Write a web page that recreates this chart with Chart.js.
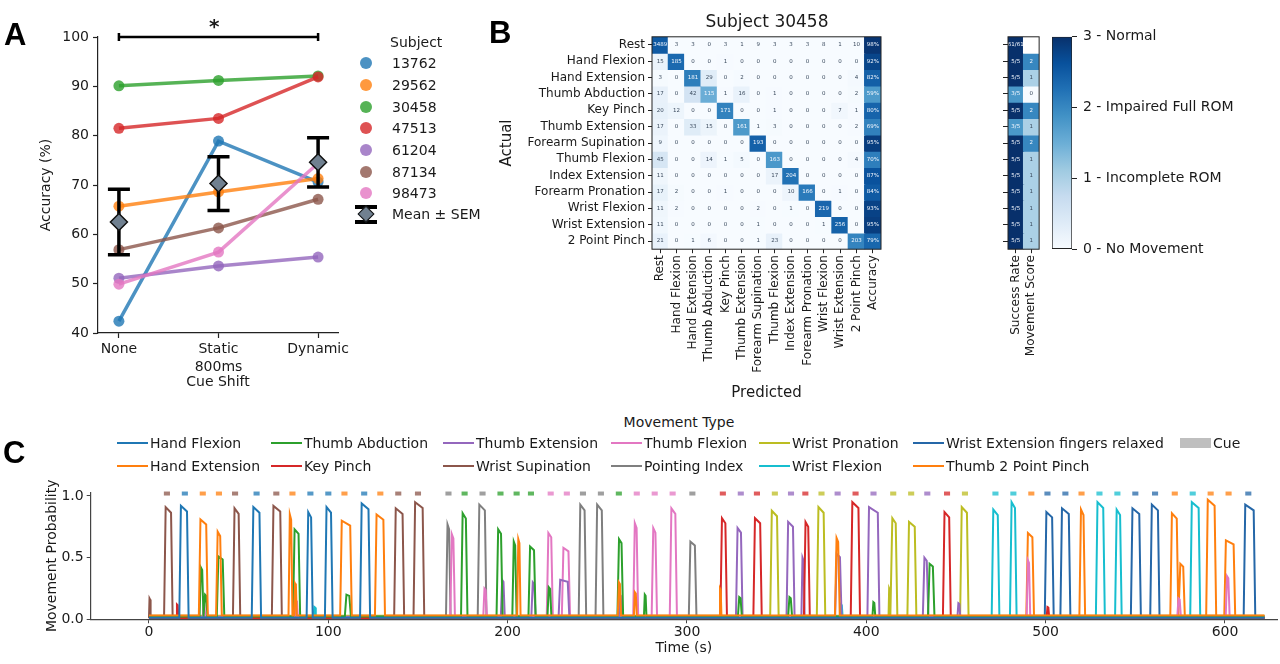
<!DOCTYPE html>
<html><head><meta charset="utf-8">
<script src="https://cdn.jsdelivr.net/npm/chart.js@4.4.1/dist/chart.umd.min.js"></script>
<style>
html,body{margin:0;padding:0;background:#fff;}
#fig{position:relative;width:1280px;height:664px;overflow:hidden;background:#fff;font-family:"DejaVu Sans",sans-serif;color:#1a1a1a;}
canvas{position:absolute;}
.t{position:absolute;white-space:nowrap;font-size:14px;line-height:18px;}
.letter{position:absolute;font-family:"Liberation Sans",Arial,sans-serif;font-weight:bold;font-size:31px;line-height:31px;color:#000;}
</style></head><body><div id="fig">
<canvas id="cA" width="360" height="400" style="left:0;top:0;width:360px;height:400px"></canvas>
<canvas id="cB" width="400" height="410" style="left:490px;top:0;width:400px;height:410px"></canvas>
<canvas id="cS" width="60" height="410" style="left:990px;top:0;width:60px;height:410px"></canvas>
<canvas id="cK" width="240" height="410" style="left:1040px;top:0;width:240px;height:410px"></canvas>
<canvas id="cC" width="1280" height="194" style="left:0;top:470px;width:1280px;height:194px"></canvas>
<div class="letter" style="left:4px;top:19px">A</div>
<div class="letter" style="left:489px;top:17px">B</div>
<div class="letter" style="left:3px;top:437px">C</div>
<div class="t" style="left:209px;top:16px;font-size:20px;line-height:20px;font-weight:bold">*</div>
<div class="t" style="left:0;top:10px;width:1534px;text-align:center;font-size:17px;line-height:22px">Subject 30458</div>
<div id="legA"></div>
<div id="legC"></div>
</div>
<script>
// ================= DATA =================
// Panel A
const cueShiftLabels = ['None', ['Static', '800ms'], 'Dynamic'];
const subjects = ['13762', '29562', '30458', '47513', '61204', '87134', '98473'];
const acc13762 = [42.4, 78.9, 70.6];
const acc29562 = [65.7, 68.6, 71.3];
const acc30458 = [90.1, 91.2, 92.1];
const acc47513 = [81.5, 83.5, 91.9];
const acc61204 = [51.1, 53.6, 55.4];
const acc87134 = [56.9, 61.3, 67.1];
const acc98473 = [49.9, 56.4, 74.4];
const meanAcc = [62.5, 70.3, 74.6];
const semAcc = [6.65, 5.45, 5.0];
const accTicks = [40, 50, 60, 70, 80, 90, 100];
const sigLevel = 100;

// Panel B
const rowLabels = ['Rest', 'Hand Flexion', 'Hand Extension', 'Thumb Abduction', 'Key Pinch', 'Thumb Extension',
  'Forearm Supination', 'Thumb Flexion', 'Index Extension', 'Forearm Pronation', 'Wrist Flexion', 'Wrist Extension', '2 Point Pinch'];
const colLabels = rowLabels.concat(['Accuracy']);
const confusion = [
  [3489, 3, 3, 0, 3, 1, 9, 3, 3, 3, 8, 1, 10],
  [15, 185, 0, 0, 1, 0, 0, 0, 0, 0, 0, 0, 0],
  [3, 0, 181, 29, 0, 2, 0, 0, 0, 0, 0, 0, 4],
  [17, 0, 42, 115, 1, 16, 0, 1, 0, 0, 0, 0, 2],
  [20, 12, 0, 0, 171, 0, 0, 1, 0, 0, 0, 7, 1],
  [17, 0, 33, 15, 0, 161, 1, 3, 0, 0, 0, 0, 2],
  [9, 0, 0, 0, 0, 0, 193, 0, 0, 0, 0, 0, 0],
  [45, 0, 0, 14, 1, 5, 0, 163, 0, 0, 0, 0, 4],
  [11, 0, 0, 0, 0, 0, 0, 17, 204, 0, 0, 0, 0],
  [17, 2, 0, 0, 1, 0, 0, 0, 10, 166, 0, 1, 0],
  [11, 2, 0, 0, 0, 0, 2, 0, 1, 0, 219, 0, 0],
  [11, 0, 0, 0, 0, 0, 1, 0, 0, 0, 1, 256, 0],
  [21, 0, 1, 6, 0, 0, 1, 23, 0, 0, 0, 0, 203]
];
const accuracy = [98, 92, 82, 59, 80, 69, 95, 70, 87, 84, 93, 95, 79];
const sideLabels = ['Success Rate', 'Movement Score'];
const successText = ['61/61', '5/5', '5/5', '3/5', '5/5', '3/5', '5/5', '5/5', '5/5', '5/5', '5/5', '5/5', '5/5'];
const successRate = [1, 1, 1, 0.6, 1, 0.6, 1, 1, 1, 1, 1, 1, 1];
const movementScore = [null, 2, 1, 0, 2, 1, 2, 1, 1, 1, 1, 1, 1];
const scoreTicks = [0, 1, 2, 3];
const scoreLabels = ['0 - No Movement', '1 - Incomplete ROM', '2 - Impaired Full ROM', '3 - Normal'];

// Panel C
const movementNames = ['Hand Flexion', 'Hand Extension', 'Thumb Abduction', 'Key Pinch', 'Thumb Extension', 'Wrist Supination',
  'Thumb Flexion', 'Pointing Index', 'Wrist Pronation', 'Wrist Flexion', 'Wrist Extension fingers relaxed', 'Thumb 2 Point Pinch'];
// peaks: [start s, end s, peak probability]
const peaksHandFlexion = [[16.9,22.1,0.92],[57.3,62.5,0.91],[87.9,91.3,0.87],[98.1,102.4,0.91],[117.7,123.3,0.94]];
const peaksHandExtension = [[27.8,32.8,0.81],[37.4,40.6,0.71],[77.8,80.0,0.85],[81.0,82.4,0.29],[106.6,113.1,0.80],[126.0,131.6,0.85],[205.3,207.2,0.65],[261.4,263.2,0.30],[270.4,272.0,0.22],[318.0,319.2,0.25],[382.5,385.2,0.66]];
const peaksThumbAbduction = [[28.2,30.4,0.42],[30.6,32.6,0.20],[37.8,42.0,0.51],[80.3,84.3,0.73],[109.2,112.6,0.20],[174.0,177.6,0.86],[193.8,197.2,0.73],[202.6,205.0,0.63],[211.6,215.6,0.59],[222.2,224.4,0.26],[261.2,264.4,0.65],[276.0,277.4,0.20],[328.4,330.6,0.18],[356.4,358.6,0.18],[403.4,405.0,0.14],[434.4,438.0,0.45]];
const peaksKeyPinch = [[15.2,16.4,0.12],[318.6,322.3,0.82],[337.0,341.7,0.82],[365.2,368.5,0.79],[391.3,396.5,0.95],[442.7,447.1,0.87],[500.5,502.0,0.10]];
const peaksThumbExtension = [[196.2,198.4,0.32],[213.2,215.6,0.30],[228.4,234.4,0.32],[262.0,263.6,0.20],[327.3,331.0,0.74],[355.5,360.0,0.79],[363.8,365.6,0.50],[382.6,386.2,0.53],[400.6,407.3,0.91],[431.5,434.6,0.50],[450.8,452.4,0.13]];
const peaksWristSupination = [[0.0,0.9,0.17],[8.4,13.2,0.91],[46.8,50.9,0.90],[68.5,74.1,0.92],[136.7,142.3,0.90],[147.5,153.5,0.95]];
const peaksThumbFlexion = [[30.0,31.4,0.12],[81.6,83.0,0.15],[168.0,170.6,0.69],[186.4,188.4,0.25],[221.8,225.2,0.70],[230.2,234.8,0.58],[270.0,272.8,0.78],[280.3,283.3,0.74],[290.4,294.4,0.90],[489.4,491.4,0.48],[573.4,575.4,0.17],[600.4,602.6,0.35]];
const peaksPointingIndex = [[165.6,168.2,0.77],[183.3,188.2,0.93],[239.6,243.8,0.93],[249.0,253.4,0.93],[301.0,305.3,0.63]];
const peaksWristPronation = [[346.4,351.1,0.88],[372.4,377.1,0.91],[412.4,413.4,0.25],[413.6,417.3,0.82],[422.9,427.9,0.79],[452.3,457.0,0.91]];
const peaksWristFlexion = [[91.8,93.0,0.10],[385.4,386.8,0.12],[469.9,474.2,0.89],[480.1,483.8,0.95],[528.0,533.0,0.95],[538.7,542.4,0.89],[580.6,586.2,0.95]];
const peaksWristExtension = [[499.5,504.5,0.87],[508.2,513.8,0.90],[547.5,553.1,0.90],[558.3,563.5,0.93],[610.4,616.9,0.93]];
const peaksThumb2Point = [[489.2,493.5,0.70],[518.8,522.0,0.89],[569.5,574.0,0.86],[574.2,577.6,0.45],[589.5,595.1,0.97],[599.6,605.7,0.64]];
const baselineLevels = [0.012, 0.03, 0.022, 0.01, 0.018, 0.008, 0.02, 0.012, 0.028, 0.016, 0.01, 0.025];
const recordStart = 0, recordEnd = 622;
const cueTimes = [10,20,30,39,48,60,71,80,90,100,109,120,129,139,150,
  167,176,186,196,205,213,224,233,242,252,262,272,282,292,303,
  320,330,339,349,358,366,375,384,394,404,415,425,434,445,455,
  472,482,492,501,511,520,530,540,550,561,572,582,592,602,613];
const cueMovement = [5,0,1,1,5,0,5,1,0,0,1,0,1,5,5,
  7,2,7,2,2,2,6,6,7,7,2,6,6,6,7,
  3,4,3,8,4,3,8,4,3,4,8,8,4,3,8,
  9,9,11,10,10,11,9,9,10,10,11,9,11,11,10];
const cueLevel = 1.02;
const cueHalfWidth = 1.7;
const probTicks = [0, 0.5, 1.0];
const timeTicks = [0, 100, 200, 300, 400, 500, 600];

// ================= STYLE / HELPERS =================
Chart.defaults.font.family = '"DejaVu Sans", sans-serif';
Chart.defaults.color = '#1a1a1a';
const INK = '#1a1a1a';
const subjRGB = ['31,119,180','255,127,14','44,160,44','214,39,40','148,103,189','140,86,75','227,119,194'];
const moveColors = ['#1f77b4','#ff7f0e','#2ca02c','#d62728','#9467bd','#8c564b','#e377c2','#7f7f7f','#bcbd22','#17becf','#2567a8','#ff7f0e'];
const bluesStops = [[247,251,255],[222,235,247],[198,219,239],[158,202,225],[107,174,214],[66,146,198],[33,113,181],[8,81,156],[8,48,107]];
function blues(t) {
  t = Math.max(0, Math.min(1, t));
  const p = t * 8, i = Math.min(7, Math.floor(p)), f = p - i;
  const a = bluesStops[i], b = bluesStops[i + 1];
  return 'rgb(' + a.map((v, k) => Math.round(v + (b[k] - v) * f)).join(',') + ')';
}
const fixTicks = vals => s => { s.ticks = vals.map(v => ({ value: v })); };
const framePlugin = { id: 'frame', afterDraw(ch) { const a = ch.chartArea, c = ch.ctx; c.save(); c.strokeStyle = '#222'; c.lineWidth = 1; c.strokeRect(a.left, a.top, a.right - a.left, a.bottom - a.top); c.restore(); } };

// ================= PANEL A =================
const subjData = [acc13762, acc29562, acc30458, acc47513, acc61204, acc87134, acc98473];
const dsA = subjData.map((arr, i) => ({
  label: subjects[i],
  data: arr.map((v, k) => ({ x: k, y: v })),
  borderColor: 'rgba(' + subjRGB[i] + ',0.8)',
  backgroundColor: 'rgba(' + subjRGB[i] + ',0.8)',
  borderWidth: 3.5, pointRadius: 5.5, pointBorderWidth: 0, order: 10 - i
}));
dsA.push({
  label: 'Mean ± SEM', isMean: true,
  data: meanAcc.map((v, k) => ({ x: k, y: v })),
  showLine: false, pointStyle: 'rectRot', pointRadius: 8.5,
  backgroundColor: '#708090', borderColor: '#111', pointBorderWidth: 1.5, order: 0
});
const errPlugin = {
  id: 'err',
  beforeDatasetDraw(ch, args) {
    if (!ch.data.datasets[args.index].isMean) return;
    const c = ch.ctx, x = ch.scales.x, y = ch.scales.y;
    c.save(); c.strokeStyle = '#000'; c.lineWidth = 3.5; c.lineCap = 'butt';
    meanAcc.forEach((m, k) => {
      const px = x.getPixelForValue(k), y1 = y.getPixelForValue(m - semAcc[k]), y2 = y.getPixelForValue(m + semAcc[k]);
      c.beginPath(); c.moveTo(px, y1); c.lineTo(px, y2);
      c.moveTo(px - 11, y1); c.lineTo(px + 11, y1);
      c.moveTo(px - 11, y2); c.lineTo(px + 11, y2); c.stroke();
    });
    c.restore();
  },
  afterDraw(ch) {
    const c = ch.ctx, x = ch.scales.x, y = ch.scales.y;
    const x0 = x.getPixelForValue(0), x1 = x.getPixelForValue(2), py = y.getPixelForValue(sigLevel);
    c.save(); c.strokeStyle = '#000'; c.lineWidth = 2.5;
    c.beginPath(); c.moveTo(x0, py); c.lineTo(x1, py);
    c.moveTo(x0, py - 4); c.lineTo(x0, py + 4); c.moveTo(x1, py - 4); c.lineTo(x1, py + 4); c.stroke();
    c.restore();
  }
};
new Chart(document.getElementById('cA'), {
  type: 'line',
  data: { datasets: dsA },
  plugins: [errPlugin],
  options: {
    responsive: false, animation: false, events: [],
    layout: { padding: { left: 0, right: 22, top: 37, bottom: 0 } },
    plugins: { legend: { display: false }, tooltip: { enabled: false } },
    scales: {
      x: {
        type: 'linear', min: -0.21, max: 2.2, afterBuildTicks: fixTicks([0, 1, 2]),
        ticks: { callback: v => cueShiftLabels[v], font: { size: 14, lineHeight: 1.3 }, color: INK, padding: 2, maxRotation: 0, autoSkip: false },
        grid: { drawOnChartArea: false, tickLength: 5, color: '#222', tickWidth: 1.2 },
        border: { color: '#222', width: 1.2 },
        title: { display: true, text: 'Cue Shift', font: { size: 14 }, color: INK, padding: { top: 0, bottom: 9 } },
        afterFit: s => { s.height = 67; }
      },
      y: {
        min: 40, max: 100, afterBuildTicks: fixTicks(accTicks),
        ticks: { font: { size: 14 }, color: INK, padding: 4 },
        grid: { drawOnChartArea: false, tickLength: 5, color: '#222', tickWidth: 1.2 },
        border: { color: '#222', width: 1.2 },
        title: { display: true, text: 'Accuracy (%)', font: { size: 14 }, color: INK, padding: { top: 38, bottom: 0 } },
        afterFit: s => { s.width = 98; }
      }
    }
  }
});
// legend A (HTML)
(function () {
  const L = document.getElementById('legA');
  let h = '<div class="t" style="left:390px;top:33px">Subject</div>';
  const ys = [63, 85, 107, 128, 150, 172, 193];
  subjects.forEach((s, i) => {
    h += '<div style="position:absolute;left:360px;top:' + (ys[i] - 6) + 'px;width:12px;height:12px;border-radius:6px;background:rgba(' + subjRGB[i] + ',0.8)"></div>';
    h += '<div class="t" style="left:392px;top:' + (ys[i] - 9) + 'px">' + s + '</div>';
  });
  const my = 214;
  h += '<div style="position:absolute;left:364px;top:' + (my - 8) + 'px;width:3.5px;height:16px;background:#000"></div>';
  h += '<div style="position:absolute;left:355px;top:' + (my - 9) + 'px;width:22px;height:3.5px;background:#000"></div>';
  h += '<div style="position:absolute;left:355px;top:' + (my + 6) + 'px;width:22px;height:3.5px;background:#000"></div>';
  h += '<div style="position:absolute;left:360px;top:' + (my - 6) + 'px;width:10px;height:10px;background:#708090;border:1.5px solid #111;transform:rotate(45deg)"></div>';
  h += '<div class="t" style="left:392px;top:' + (my - 9) + 'px">Mean ± SEM</div>';
  L.innerHTML = h;
})();

// ================= PANEL B (confusion matrix) =================
const rowSums = confusion.map(r => r.reduce((a, b) => a + b, 0));
const dsB = confusion.map((row, r) => ({
  label: rowLabels[r],
  data: colLabels.map(() => [r - 0.5, r + 0.5]),
  backgroundColor: colLabels.map((c, k) => k < 13 ? blues(0.85 * row[k] / rowSums[r]) : blues(accuracy[r] / 100)),
  borderWidth: 0, barPercentage: 1, categoryPercentage: 1, grouped: false, inflateAmount: 0.6
}));
const cellTextPlugin = {
  id: 'cellText',
  afterDatasetsDraw(ch) {
    const c = ch.ctx, x = ch.scales.x, y = ch.scales.y;
    c.save(); c.font = '5.5px "DejaVu Sans"'; c.textAlign = 'center'; c.textBaseline = 'middle';
    confusion.forEach((row, r) => {
      colLabels.forEach((lab, k) => {
        let txt, light;
        if (k < 13) { txt = String(row[k]); light = row[k] / rowSums[r] > 0.5; }
        else { txt = accuracy[r] + '%'; light = true; }
        c.fillStyle = light ? '#f4f8ff' : '#3b4b5e';
        c.fillText(txt, x.getPixelForValue(k), y.getPixelForValue(r));
      });
    });
    c.restore();
  }
};
new Chart(document.getElementById('cB'), {
  type: 'bar',
  data: { labels: colLabels, datasets: dsB },
  plugins: [cellTextPlugin, framePlugin],
  options: {
    responsive: false, animation: false, events: [],
    layout: { padding: { left: 0, right: 9, top: 36.8, bottom: 0 } },
    plugins: { legend: { display: false }, tooltip: { enabled: false } },
    scales: {
      x: {
        type: 'category',
        ticks: { font: { size: 12 }, color: INK, maxRotation: 90, minRotation: 90, autoSkip: false, padding: 2 },
        grid: { drawOnChartArea: false, tickLength: 4, color: '#222', offset: false },
        border: { display: false },
        title: { display: true, text: 'Predicted', font: { size: 15 }, color: INK, padding: { top: 0, bottom: 8 } },
        afterFit: s => { s.height = 160.8; }
      },
      y: {
        min: -0.5, max: 12.5, reverse: true, afterBuildTicks: fixTicks(rowLabels.map((_, i) => i)),
        ticks: { callback: v => rowLabels[v], font: { size: 12 }, color: INK, padding: 3, autoSkip: false },
        grid: { drawOnChartArea: false, tickLength: 4, color: '#222' },
        border: { display: false },
        title: { display: true, text: 'Actual', font: { size: 15 }, color: INK, padding: { top: 8, bottom: 0 } },
        afterFit: s => { s.width = 162; }
      }
    }
  }
});

// ================= PANEL B side (success rate / movement score) =================
const dsS = rowLabels.map((_, r) => ({
  data: [[r - 0.5, r + 0.5], [r - 0.5, r + 0.5]],
  backgroundColor: [blues(successRate[r]), movementScore[r] === null ? '#ffffff' : blues(movementScore[r] / 3)],
  borderWidth: 0, barPercentage: 1, categoryPercentage: 1, grouped: false, inflateAmount: 0.6
}));
const sideTextPlugin = {
  id: 'sideText',
  afterDatasetsDraw(ch) {
    const c = ch.ctx, x = ch.scales.x, y = ch.scales.y;
    c.save(); c.font = '5.5px "DejaVu Sans"'; c.textAlign = 'center'; c.textBaseline = 'middle';
    rowLabels.forEach((_, r) => {
      c.fillStyle = successRate[r] >= 0.5 ? '#f4f8ff' : '#3b4b5e';
      c.fillText(successText[r], x.getPixelForValue(0), y.getPixelForValue(r));
      if (movementScore[r] !== null) {
        c.fillStyle = movementScore[r] >= 2 ? '#f4f8ff' : '#3b4b5e';
        c.fillText(String(movementScore[r]), x.getPixelForValue(1), y.getPixelForValue(r));
      }
    });
    c.restore();
  }
};
new Chart(document.getElementById('cS'), {
  type: 'bar',
  data: { labels: sideLabels, datasets: dsS },
  plugins: [sideTextPlugin, framePlugin],
  options: {
    responsive: false, animation: false, events: [],
    layout: { padding: { left: 0, right: 9, top: 36.8, bottom: 0 } },
    plugins: { legend: { display: false }, tooltip: { enabled: false } },
    scales: {
      x: {
        type: 'category',
        ticks: { font: { size: 12 }, color: INK, maxRotation: 90, minRotation: 90, autoSkip: false, padding: 2 },
        grid: { drawOnChartArea: false, tickLength: 4, color: '#222', offset: false },
        border: { display: false },
        afterFit: s => { s.height = 160.8; }
      },
      y: {
        min: -0.5, max: 12.5, reverse: true, afterBuildTicks: fixTicks(rowLabels.map((_, i) => i)),
        ticks: { callback: () => '', padding: 0 },
        grid: { drawOnChartArea: false, tickLength: 5, color: '#222' },
        border: { display: false },
        afterFit: s => { s.width = 18; }
      }
    }
  }
});

// ================= Colorbar =================
new Chart(document.getElementById('cK'), {
  type: 'bar',
  data: {
    labels: ['score'],
    datasets: [{
      data: [[scoreTicks[0], scoreTicks[scoreTicks.length - 1]]],
      backgroundColor: (ctx) => {
        const ca = ctx.chart.chartArea; if (!ca) return '#fff';
        const g = ctx.chart.ctx.createLinearGradient(0, ca.bottom, 0, ca.top);
        for (let i = 0; i <= 16; i++) g.addColorStop(i / 16, blues(i / 16));
        return g;
      },
      borderWidth: 1, borderColor: '#222', borderSkipped: false, barPercentage: 1, categoryPercentage: 1
    }]
  },
  options: {
    responsive: false, animation: false, events: [],
    layout: { padding: { left: 12, right: 0, top: 36.8, bottom: 160.8 } },
    plugins: { legend: { display: false }, tooltip: { enabled: false } },
    scales: {
      x: { display: false },
      y: {
        position: 'right', min: 0, max: 3, afterBuildTicks: fixTicks(scoreTicks),
        ticks: { callback: v => scoreLabels[v], font: { size: 14 }, color: INK, padding: 6 },
        grid: { drawOnChartArea: false, tickLength: 5, color: '#222' },
        border: { display: false },
        afterFit: s => { s.width = 208; }
      }
    }
  }
});

// ================= PANEL C =================
const peaksByMove = [peaksHandFlexion, peaksHandExtension, peaksThumbAbduction, peaksKeyPinch, peaksThumbExtension,
  peaksWristSupination, peaksThumbFlexion, peaksPointingIndex, peaksWristPronation, peaksWristFlexion, peaksWristExtension, peaksThumb2Point];
function buildTrace(peaks, base) {
  const pts = [{ x: recordStart, y: base }];
  peaks.forEach(([s, e, h]) => {
    const r = Math.min(0.9, (e - s) / 3);
    pts.push({ x: s, y: base }, { x: s + r, y: h }, { x: e - r, y: h * 0.95 }, { x: e, y: base });
  });
  pts.push({ x: recordEnd, y: base });
  return pts;
}
const dsC = movementNames.map((n, i) => ({
  label: n, data: buildTrace(peaksByMove[i], baselineLevels[i]),
  borderColor: moveColors[i], borderWidth: 2, pointRadius: 0, fill: false, tension: 0
}));
const cueData = [];
cueTimes.forEach(t => { cueData.push({ x: t - cueHalfWidth, y: cueLevel }, { x: t + cueHalfWidth, y: cueLevel }, { x: t + cueHalfWidth, y: null }); });
dsC.push({
  label: 'Cue', data: cueData, borderWidth: 4, pointRadius: 0, spanGaps: false, clip: false, borderCapStyle: 'butt',
  borderColor: '#bbbbbb',
  segment: { borderColor: ctx => moveColors[cueMovement[Math.floor(ctx.p0DataIndex / 3)]] + 'c0' }
});
new Chart(document.getElementById('cC'), {
  type: 'line',
  data: { datasets: dsC },
  options: {
    responsive: false, animation: false, events: [],
    layout: { padding: { left: 0, right: 3, top: 22.3, bottom: 0 } },
    plugins: { legend: { display: false }, tooltip: { enabled: false } },
    scales: {
      x: {
        type: 'linear', min: -32.5, max: 629, afterBuildTicks: fixTicks(timeTicks),
        ticks: { font: { size: 14 }, color: INK, padding: 1, maxRotation: 0 },
        grid: { drawOnChartArea: false, tickLength: 4, color: '#444' },
        border: { color: '#444', width: 1.2 },
        title: { display: true, text: 'Time (s)', font: { size: 14 }, color: INK, padding: { top: 0, bottom: 7 } },
        afterFit: s => { s.height = 44.7; }
      },
      y: {
        min: 0, max: 1.03, afterBuildTicks: fixTicks(probTicks),
        ticks: { callback: v => v.toFixed(1), font: { size: 14 }, color: INK, padding: 3 },
        grid: { drawOnChartArea: false, tickLength: 4, color: '#444' },
        border: { color: '#444', width: 1.2 },
        title: { display: true, text: 'Movement Probability', font: { size: 14 }, color: INK, padding: { top: 44, bottom: 0 } },
        afterFit: s => { s.width = 90.7; }
      }
    }
  }
});
// legend C (HTML)
(function () {
  const L = document.getElementById('legC');
  let h = '<div class="t" style="left:579px;top:413px;width:200px;text-align:center">Movement Type</div>';
  const colX = [117, 271, 443, 611, 759, 913];
  const rowY = [443, 466];
  movementNames.forEach((n, i) => {
    const cx = colX[Math.floor(i / 2)], cy = rowY[i % 2];
    h += '<div style="position:absolute;left:' + cx + 'px;top:' + (cy - 1) + 'px;width:31px;height:2px;background:' + moveColors[i] + '"></div>';
    h += '<div class="t" style="left:' + (cx + 33) + 'px;top:' + (cy - 9) + 'px">' + n + '</div>';
  });
  h += '<div style="position:absolute;left:1180px;top:' + (rowY[0] - 5) + 'px;width:31px;height:10px;background:#bfbfbf"></div>';
  h += '<div class="t" style="left:1213px;top:' + (rowY[0] - 9) + 'px">Cue</div>';
  L.innerHTML = h;
})();
</script>
</body></html>
